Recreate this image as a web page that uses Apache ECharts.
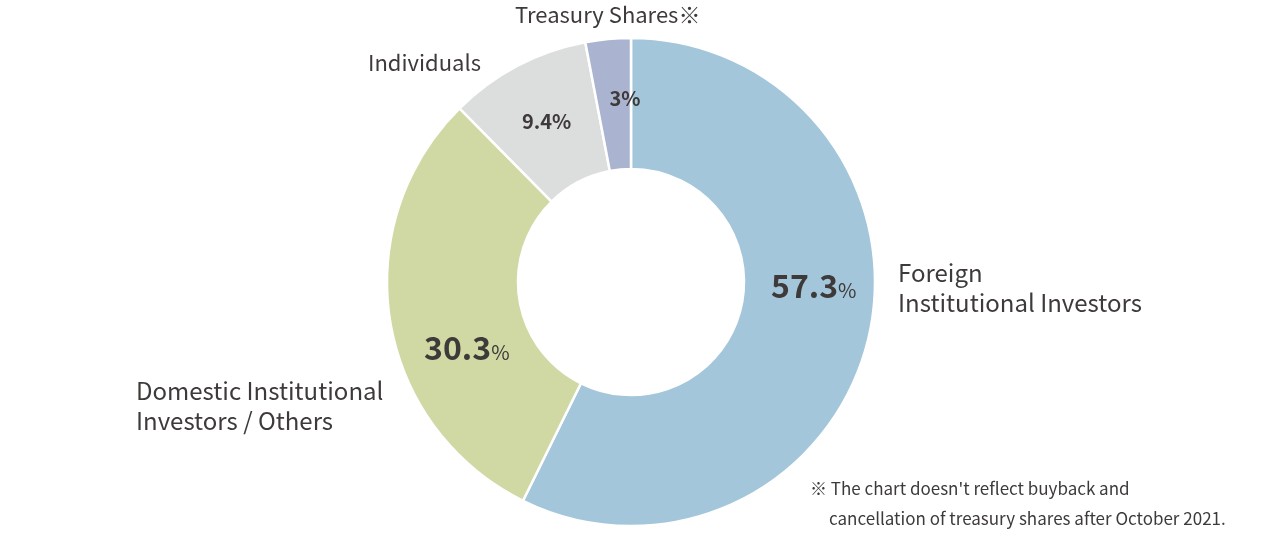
<!DOCTYPE html>
<html>
<head>
<meta charset="utf-8">
<script src="https://cdn.jsdelivr.net/npm/echarts@6/dist/echarts.min.js"></script>
<style>html,body{margin:0;padding:0;background:#fff}#chart{width:1266px;height:541px}</style>
</head>
<body>
<div id="chart"></div>
<script>
var categories = ['Foreign Institutional Investors', 'Domestic Institutional Investors / Others', 'Individuals', 'Treasury Shares'];
var values = [57.3, 30.3, 9.4, 3.0];
var colors = ['#a3c6da', '#d0d9a4', '#dcdddd', '#aab4d0'];
var offsets = [[6, -37], [15, 37], [0, 0], [11, -3]];
var bigLabel = [true, true, false, false];

var font = '"Noto Sans CJK JP", "Noto Sans", sans-serif';
var txt = '#3e3a39';

var chart = echarts.init(document.getElementById('chart'));
var data = categories.map(function (c, i) {
  return {
    name: c,
    value: values[i],
    itemStyle: { color: colors[i] },
    label: {
      offset: offsets[i],
      formatter: bigLabel[i] ? '{big|{c}}{pct|%}' : '{small|{c}%}'
    }
  };
});

chart.setOption({
  animation: false,
  series: [{
    type: 'pie',
    center: [631, 282],
    radius: [113, 244],
    startAngle: 90,
    clockwise: true,
    itemStyle: { borderColor: '#fff', borderWidth: 2.5 },
    label: {
      show: true,
      position: 'inside',
      color: txt,
      fontFamily: font,
      rich: {
        big: { fontSize: 32, fontWeight: 'bold', color: txt, fontFamily: font },
        pct: { fontSize: 20, color: txt, fontFamily: font, padding: [8, 0, 0, 0] },
        small: { fontSize: 20, fontWeight: 'bold', color: txt, fontFamily: font }
      }
    },
    labelLine: { show: false },
    data: data
  }],
  graphic: [
    { type: 'text', left: 515, top: 4, style: { text: 'Treasury Shares※', font: '22px ' + font, fill: txt } },
    { type: 'text', left: 368, top: 52, style: { text: 'Individuals', font: '22px ' + font, fill: txt } },
    { type: 'text', left: 898, top: 258, style: { text: 'Foreign\nInstitutional Investors', font: '24px ' + font, fill: txt, lineHeight: 30 } },
    { type: 'text', left: 136, top: 376, style: { text: 'Domestic Institutional\nInvestors / Others', font: '24px ' + font, fill: txt, lineHeight: 30 } },
    { type: 'text', left: 810, top: 474, style: { text: '※ The chart doesn\'t reflect buyback and\n     cancellation of treasury shares after October 2021.', font: '17px ' + font, fill: txt, lineHeight: 30 } }
  ]
});
</script>
</body>
</html>
